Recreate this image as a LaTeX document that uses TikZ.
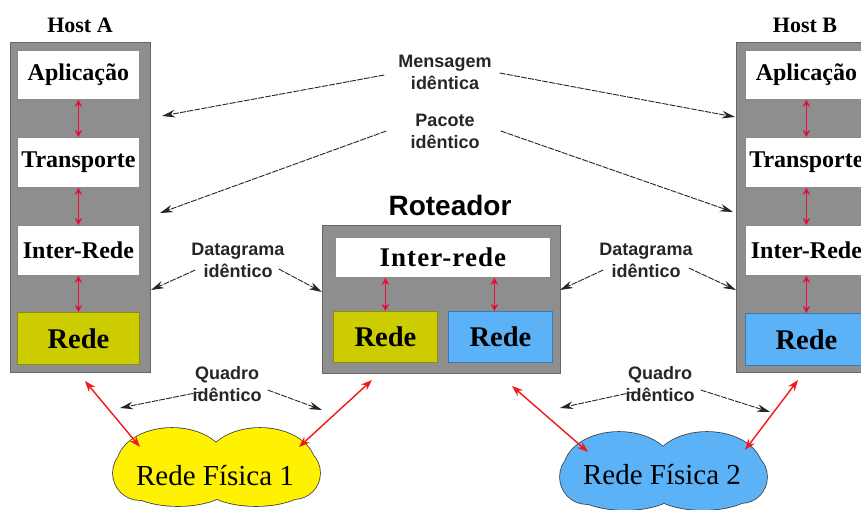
\documentclass[tikz,border=0pt]{standalone}
\usepackage{fontspec}
\setmainfont{Liberation Serif}
\newfontfamily\lblsans{Liberation Sans}
\usetikzlibrary{arrows.meta,calc}

\definecolor{boxgray}{HTML}{8E8E8E}
\definecolor{boxedge}{HTML}{666666}
\definecolor{olivey}{HTML}{CCCC00}
\definecolor{olivedge}{HTML}{8C8C10}
\definecolor{skyb}{HTML}{5CB2F7}
\definecolor{skyedge}{HTML}{3C78B4}
\definecolor{linkred}{HTML}{E0103A}
\definecolor{wirered}{HTML}{F01818}
\definecolor{lbltext}{HTML}{262626}

\tikzset{
  hostbox/.style={draw=boxedge, fill=boxgray, line width=1.4pt, inner sep=0pt, anchor=north west},
  layer/.style={draw=black!45, fill=white, line width=0.8pt, inner sep=0pt, anchor=north west,
    font=\bfseries\fontsize{24}{26}\selectfont},
  netlayer/.style={layer, font=\bfseries\fontsize{28.5}{30}\selectfont},
  netyellow/.style={netlayer, fill=olivey, draw=olivedge},
  netblue/.style={netlayer, fill=skyb, draw=skyedge},
  hostlabel/.style={font=\bfseries\fontsize{22}{24}\selectfont},
  lbl/.style={align=center, text=lbltext, inner sep=0pt,
    font=\lblsans\bfseries\fontsize{18}{22}\selectfont},
  updown/.style={draw=linkred, line width=1.1pt,
    {Stealth[length=7pt,width=7.5pt]}-{Stealth[length=7pt,width=7.5pt]}},
  wire/.style={draw=wirered, line width=1.4pt,
    {Stealth[length=11pt,width=8pt]}-{Stealth[length=11pt,width=8pt]}},
  peer/.style={draw=black!85, line width=0.9pt, dash pattern=on 6pt off 1.2pt,
    -{Stealth[length=13pt,width=7.5pt]}},
  % outline of a cloud made of overlapping puffs, centred on the current origin
  puffs/.style={insert path={
    (-44,-2) ellipse [x radius=55, y radius=37]
    (44,-2) ellipse [x radius=55, y radius=37]
    (-76,6) circle [radius=27]
    (78,6) circle [radius=26]
    (-38,14) ellipse [x radius=56, y radius=25]
    (40,14) ellipse [x radius=56, y radius=25]}},
  netname/.style={font=\fontsize{29}{31}\selectfont, inner sep=0pt}
}

\begin{document}
\begin{tikzpicture}[x=1pt,y=-1pt]
\clip (0,0) rectangle (861,509);
\fill[white] (0,0) rectangle (861,509);

% ---- Host A ----
\node[hostlabel] (labA) at (80,25) {Host A};
\node[hostbox, minimum width=140pt, minimum height=330pt] (hostA) at (10,42) {};
\node[layer, minimum width=122pt, minimum height=49pt] (appA) at (17,50) {Aplicação};
\node[layer, minimum width=122pt, minimum height=50pt] (trA) at (17,137) {Transporte};
\node[layer, minimum width=122pt, minimum height=50pt] (inA) at (17,225) {Inter-Rede};
\node[netyellow, minimum width=122pt, minimum height=52pt] (netA) at (17,312) {Rede};
\draw[updown] (appA.south) -- (trA.north);
\draw[updown] (trA.south) -- (inA.north);
\draw[updown] (inA.south) -- (netA.north);

% ---- Host B ----
\node[hostlabel] (labB) at (805,25) {Host B};
\node[hostbox, minimum width=141pt, minimum height=330pt] (hostB) at (736,42) {};
\node[layer, minimum width=122pt, minimum height=49pt] (appB) at (745,50) {Aplicação};
\node[layer, minimum width=122pt, minimum height=50pt] (trB) at (745,137) {Transporte};
\node[layer, minimum width=122pt, minimum height=50pt] (inB) at (745,225) {Inter-Rede};
\node[netblue, minimum width=122pt, minimum height=52pt] (netB) at (745,313) {Rede};
\draw[updown] (appB.south) -- (trB.north);
\draw[updown] (trB.south) -- (inB.north);
\draw[updown] (inB.south) -- (netB.north);

% ---- Router ----
\node[font=\lblsans\bfseries\fontsize{28}{30}\selectfont, inner sep=0pt] (labR) at (450,205) {Roteador};
\node[hostbox, minimum width=238pt, minimum height=148pt] (rtr) at (322,225) {};
\node[layer, font=\bfseries\fontsize{27}{29}\selectfont\addfontfeature{LetterSpace=4}, minimum width=215pt, minimum height=40pt] (inR) at (335,237) {Inter-rede};
\node[netyellow, minimum width=104pt, minimum height=51pt] (netR1) at (333,311) {Rede};
\node[netblue, minimum width=104pt, minimum height=51pt] (netR2) at (448,311) {Rede};
\coordinate (rl) at (netR1.north);
\coordinate (rr) at ($(netR2.north)+(-6,0)$);
\draw[updown] (rl |- inR.south) -- (rl);
\draw[updown] (rr |- inR.south) -- (rr);

% ---- Physical networks ----
\begin{scope}[shift={(216,467)}]
  \draw[draw=black!75, line width=1.6pt, puffs];
  \fill[yellow, puffs];
\end{scope}
\node[netname] (cloud1txt) at (215,476) {Rede Física 1};
\begin{scope}[shift={(663,471)}]
  \draw[draw=black!75, line width=1.6pt, puffs];
  \fill[skyb, puffs];
\end{scope}
\node[netname] (cloud2txt) at (662,475) {Rede Física 2};

\coordinate (w1a) at (85,381);  \coordinate (w1b) at (140,447);
\coordinate (w2a) at (372,380); \coordinate (w2b) at (299,447);
\coordinate (w3a) at (512,386); \coordinate (w3b) at (588,452);
\coordinate (w4a) at (798,380); \coordinate (w4b) at (745,450);
\draw[wire] (w1a) -- (w1b);
\draw[wire] (w2a) -- (w2b);
\draw[wire] (w3a) -- (w3b);
\draw[wire] (w4a) -- (w4b);

% ---- Peer labels and arrows ----
\node[lbl] (msg) at (445,72) {Mensagem\\idêntica};
\node[lbl] (pkt) at (445,131) {Pacote\\idêntico};
\node[lbl] (dgA) at (238,260) {Datagrama\\idêntico};
\node[lbl] (dgB) at (646,260) {Datagrama\\idêntico};
\node[lbl] (frA) at (227,384) {Quadro\\idêntico};
\node[lbl] (frB) at (660,384) {Quadro\\idêntico};

\coordinate (msgA) at (162,116); \coordinate (msgB) at (735,117);
\coordinate (pktA) at (160,213); \coordinate (pktB) at (733,212);
\coordinate (dgA1) at (151,290); \coordinate (dgA2) at (322,292);
\coordinate (dgB1) at (560,290); \coordinate (dgB2) at (736,290);
\coordinate (frA1) at (120,408); \coordinate (frA2) at (322,410);
\coordinate (frB1) at (560,408); \coordinate (frB2) at (770,412);

\draw[peer] ($(msg.west)+(-14,3)$) -- (msgA);
\draw[peer] ($(msg.east)+(8,1)$) -- (msgB);
\draw[peer] ($(pkt.west)+(-24,0)$) -- (pktA);
\draw[peer] ($(pkt.east)+(21,0)$) -- (pktB);
\draw[peer] ($(dgA.west)+(4,10)$) -- (dgA1);
\draw[peer] ($(dgA.east)+(-6,9)$) -- (dgA2);
\draw[peer] ($(dgB.west)+(4,10)$) -- (dgB1);
\draw[peer] ($(dgB.east)+(-4,8)$) -- (dgB2);
\draw[peer] ($(frA.west)+(8,8)$) -- (frA1);
\draw[peer] ($(frA.east)+(6,6)$) -- (frA2);
\draw[peer] ($(frB.west)+(8,8)$) -- (frB1);
\draw[peer] ($(frB.east)+(6,6)$) -- (frB2);
\end{tikzpicture}
\end{document}
